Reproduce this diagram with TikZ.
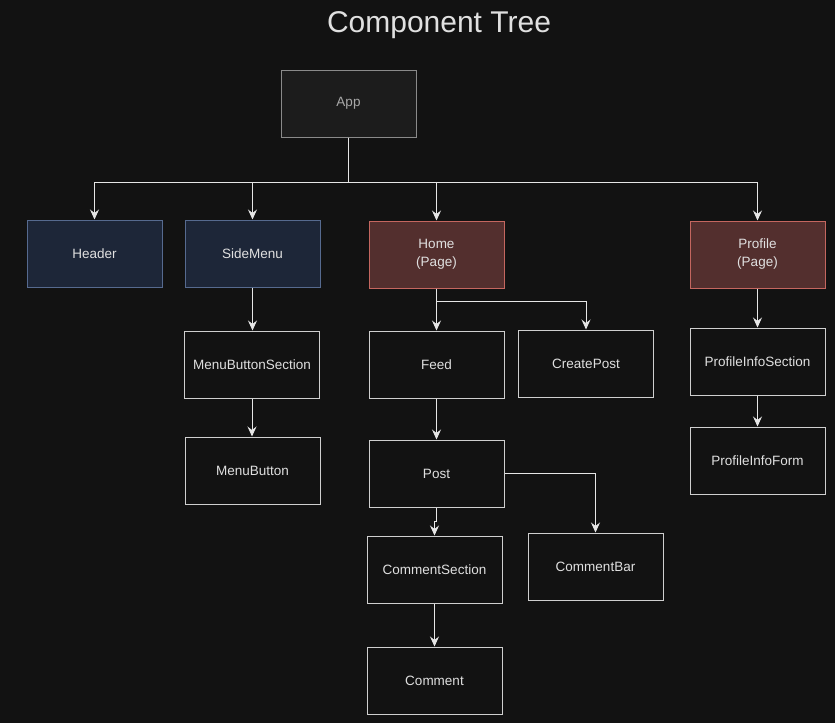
\documentclass[tikz,border=0pt]{standalone}
\usepackage{fontspec}
\setmainfont{Liberation Sans}
\usetikzlibrary{arrows.meta,calc}
\definecolor{bg}{HTML}{121212}
\definecolor{appfill}{HTML}{1C1C1C}
\definecolor{appdraw}{HTML}{8A8A8A}
\definecolor{apptext}{HTML}{A8A8A8}
\definecolor{bluefill}{HTML}{1D2638}
\definecolor{bluedraw}{HTML}{566A8F}
\definecolor{redfill}{HTML}{532F2E}
\definecolor{reddraw}{HTML}{C4665F}
\definecolor{plaindraw}{HTML}{CFCFCF}
\definecolor{txt}{HTML}{E0E0E0}
\definecolor{edge}{HTML}{E6E6E6}
\tikzset{
  box/.style={draw=plaindraw, fill=bg, line width=1pt, minimum width=135pt, minimum height=67pt,
    inner sep=0pt, text=txt, font=\fontsize{13.5}{18}\selectfont, align=center},
  appbox/.style={box, draw=appdraw, fill=appfill, text=apptext},
  bluebox/.style={box, draw=bluedraw, fill=bluefill},
  redbox/.style={box, draw=reddraw, fill=redfill},
  conn/.style={draw=edge, line width=1pt, -{Stealth[length=10pt,width=9pt,inset=3.5pt]}},
}
\begin{document}
\begin{tikzpicture}[x=1pt,y=-1pt]
\fill[bg] (0,0) rectangle (835,723);
\useasboundingbox (0,0) rectangle (835,723);
\node[text=txt, font=\fontsize{30}{34}\selectfont] (title) at (439,25) {Component Tree};

\node[appbox] (app) at (348.5,103.5) {App};
\node[bluebox] (header) at (94.5,253.5) {Header};
\node[bluebox] (side) at (252.5,253.5) {SideMenu};
\node[redbox] (home) at (436.5,254.5) {Home\\(Page)};
\node[redbox] (profile) at (757.5,254.5) {Profile\\(Page)};
\node[box] (mbs) at (252,364.5) {MenuButtonSection};
\node[box] (mb) at (252.5,470.5) {MenuButton};
\node[box] (feed) at (436.5,364.5) {Feed};
\node[box] (create) at (586,363.5) {CreatePost};
\node[box] (pis) at (757.5,361.5) {ProfileInfoSection};
\node[box] (pif) at (757.5,460.5) {ProfileInfoForm};
\node[box] (post) at (436.5,473.5) {Post};
\node[box] (cs) at (434.5,569.5) {CommentSection};
\node[box] (cbar) at (595.5,566.5) {CommentBar};
\node[box] (comment) at (434.5,680.5) {Comment};

\coordinate (bus) at (348.5,182);
\draw[conn] (app.south) |- (bus) -| (header.north);
\draw[conn] (app.south) |- (bus) -| (side.north);
\draw[conn] (app.south) |- (bus) -| (home.north);
\draw[conn] (app.south) |- (bus) -| (profile.north);

\draw[conn] (side.south) -- (side.south |- mbs.north);
\draw[conn] (mbs.south) -- (mbs.south |- mb.north);

\draw[conn] (home.south) -- (feed.north);
\coordinate (hbus) at (436.5,301);
\draw[conn] (home.south) |- (hbus) -| (create.north);

\draw[conn] (feed.south) -- (post.north);
\coordinate (pmid) at (436.5,521);
\draw[conn] (post.south) -- (pmid) -| (cs.north);
\draw[conn] (post.east) -| (cbar.north);
\draw[conn] (cs.south) -- (comment.north);

\draw[conn] (profile.south) -- (pis.north);
\draw[conn] (pis.south) -- (pif.north);
\end{tikzpicture}
\end{document}
